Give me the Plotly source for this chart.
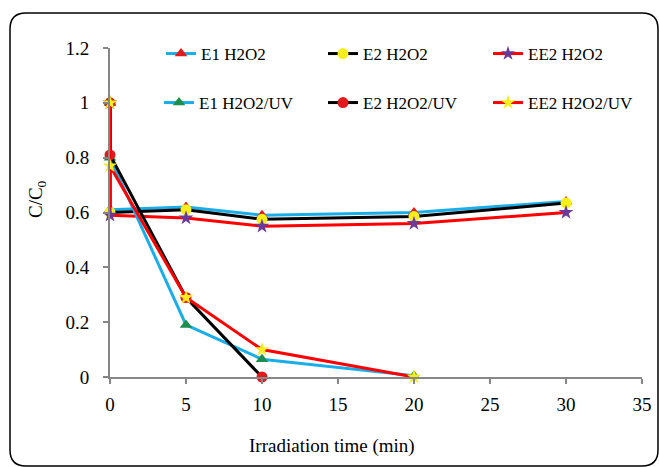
import plotly.graph_objects as go

# data
t_h2o2 = [0, 0, 5, 10, 20, 30]
e1_h2o2 = [1.0, 0.61, 0.62, 0.59, 0.60, 0.64]
e2_h2o2 = [1.0, 0.60, 0.61, 0.575, 0.585, 0.635]
ee2_h2o2 = [1.0, 0.59, 0.58, 0.55, 0.56, 0.60]

t_uv_e1 = [0, 0, 5, 10, 20]
e1_uv = [1.0, 0.80, 0.19, 0.065, 0.005]
t_uv_e2 = [0, 0, 5, 10]
e2_uv = [1.0, 0.81, 0.29, 0.0]
t_uv_ee2 = [0, 0, 5, 10, 20]
ee2_uv = [1.0, 0.77, 0.29, 0.10, 0.0]

names = ["E1 H2O2", "E2 H2O2", "EE2 H2O2", "E1 H2O2/UV", "E2 H2O2/UV", "EE2 H2O2/UV"]

W, H = 659, 467
L, R, T, B = 110, 17, 48, 90
PW, PH = W - L - R, H - T - B

FONT = "Liberation Serif"

fig = go.Figure()

series = [
    (t_h2o2, e1_h2o2, "#1AAEE8", "triangle-up", "#E31A1C"),
    (t_h2o2, e2_h2o2, "#000000", "circle", "#F5EE1A"),
    (t_h2o2, ee2_h2o2, "#FF0000", "star", "#6A3A9A"),
    (t_uv_e1, e1_uv, "#1AAEE8", "triangle-up", "#1E8E4E"),
    (t_uv_e2, e2_uv, "#000000", "circle", "#E31A1C"),
    (t_uv_ee2, ee2_uv, "#FF0000", "star", "#F5EE1A"),
]
legend_ids = ["legend", "legend2", "legend3", "legend4", "legend5", "legend6"]
# legend text start (px) and row centre (px)
leg_x = [201, 363, 528, 199, 363, 528]
leg_y = [54, 54, 54, 103, 103, 103]

for (x, y, lc, sym, mc), name, lg in zip(series, names, legend_ids):
    fig.add_trace(go.Scatter(
        x=x, y=y, name=name, mode="lines+markers",
        line=dict(color=lc, width=3),
        marker=dict(symbol=sym, color=mc, size=11, line=dict(width=0)),
        cliponaxis=False, legend=lg,
    ))

def px(xp):
    return (xp - L) / PW

def py(yp):
    return (H - B - yp) / PH

# rounded border
x0, y0, x1, y1, r = 10, 13, 658, 466, 16
path = (f"M {px(x0 + r)},{py(y0)} L {px(x1 - r)},{py(y0)} "
        f"Q {px(x1)},{py(y0)} {px(x1)},{py(y0 + r)} "
        f"L {px(x1)},{py(y1 - r)} Q {px(x1)},{py(y1)} {px(x1 - r)},{py(y1)} "
        f"L {px(x0 + r)},{py(y1)} Q {px(x0)},{py(y1)} {px(x0)},{py(y1 - r)} "
        f"L {px(x0)},{py(y0 + r)} Q {px(x0)},{py(y0)} {px(x0 + r)},{py(y0)} Z")
fig.add_shape(type="path", path=path, xref="paper", yref="paper",
              line=dict(color="black", width=1.5), layer="below")

fig.add_annotation(text="C/C<sub>0</sub>", xref="paper", yref="paper",
                   x=px(37), y=py(199), textangle=-90, showarrow=False,
                   xanchor="center", yanchor="middle",
                   font=dict(family=FONT, size=19, color="black"))
fig.add_annotation(text="Irradiation time (min)", xref="paper", yref="paper",
                   x=px(332), y=py(446), showarrow=False,
                   xanchor="center", yanchor="middle",
                   font=dict(family=FONT, size=19, color="black"))

axis_common = dict(showgrid=False, zeroline=False, showline=True,
                   linecolor="#868686", linewidth=2, ticks="outside",
                   ticklen=5, tickcolor="#868686", tickwidth=2,
                   tickfont=dict(family=FONT, size=19, color="black"))

fig.update_xaxes(range=[0, 35], dtick=5, tick0=0, ticklabelstandoff=4, **axis_common)
fig.update_yaxes(range=[0, 1.2], dtick=0.2, tick0=0, ticklabelstandoff=10, **axis_common)

legends = {}
for lg, lx, ly in zip(legend_ids, leg_x, leg_y):
    legends[lg] = dict(orientation="h", xref="container", yref="container",
                       x=(lx - 40) / W, y=1 - ly / H,
                       xanchor="left", yanchor="middle",
                       bgcolor="rgba(0,0,0,0)", borderwidth=0,
                       font=dict(family=FONT, size=17, color="black"),
                       itemwidth=30)

fig.update_layout(
    width=W, height=H,
    margin=dict(l=L, r=R, t=T, b=B, autoexpand=False),
    paper_bgcolor="white", plot_bgcolor="white",
    showlegend=True,
    **legends,
)

fig.write_html("out.html")
